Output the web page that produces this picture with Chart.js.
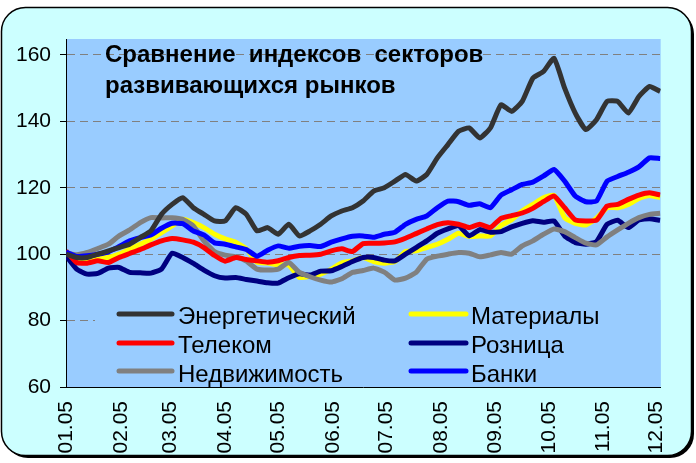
<!DOCTYPE html>
<html><head><meta charset="utf-8">
<script src="https://cdn.jsdelivr.net/npm/chart.js@4/dist/chart.umd.min.js"></script>
<style>html,body{margin:0;padding:0;background:#fff;}#wrap{width:696px;height:463px;position:relative;}</style>
</head><body><div id="wrap"><canvas id="c" width="696" height="463"></canvas></div>
<script>
const titleLines = ['Сравнение  индексов  секторов', 'развивающихся рынков'];
const monthLabels = ['01.05','02.05','03.05','04.05','05.05','06.05','07.05','08.05','09.05','10.05','11.05','12.05'];
const monthDays = [0,31,59,90,120,151,181,212,243,273,304,334];
const yTicks = [60,80,100,120,140,160];
const days = [0,6,12,18,24,30,36,42,48,54,60,66,72,78,84,90,96,102,108,114,120,126,132,138,144,150,156,162,168,174,180,186,192,198,204,210,216,222,228,234,240,246,252,258,264,270,276,282,288,294,300,306,312,318,324,330,336];

const energy = [100,99,99,100,101,102,103,105,107,112,115,117,114,112,110,110,114,112,107,108,106,109,105.5,107,109,111.5,113,114,116,119,120,122,124,122,124,129,133,137,138,135,138,145,143,146,153,155,159,150,142.5,137.5,140.5,146,146,142.5,147.5,150.5,149];
const materials = [100.5,98.5,98.5,99,99,100,101.5,103,104.5,106.5,108.5,110.5,109.5,108,106,104.6,103.6,101.6,97.6,97.3,96.8,96.7,93,93.3,94,95.5,97.4,98,99,97.8,97.3,97.8,100.8,101,102,103,104.5,106.3,105.3,105.5,105.5,108.6,110.4,113,115,117,117.7,111,109.3,108.8,110.8,114,114,115,116.8,117.7,117];
const telecom = [101,97.5,97.3,98,97.5,99,100.2,101.4,102.8,104,104.7,104.3,103.6,102,99.6,97.9,99,98.4,98,97.6,98,99,99.6,99.7,100,101,101.6,100.8,103.2,103.3,103.4,103.7,104.8,106.2,107.6,108.9,109.5,109,108,109,108,110.8,111.6,112.4,113.8,115.8,117.5,114,110.3,110,110.2,114.5,115,116.5,117.8,118.5,117.8];
const retail = [99.5,95.5,94,94.2,95.8,96,94.5,94.4,94.3,95.5,100.3,99,97.2,95.2,93.5,92.8,93,92.4,91.9,91.4,91.3,92.9,94.1,93.7,94.9,95,96.3,97.8,99,99,98.2,98,100,102,104,106.3,107.6,108.6,105.5,107.4,106.6,106.8,108.2,109.3,110.1,109.6,110,105.5,103.5,103,103.8,109,110.2,108,110.3,110.7,110.2];
const realEstate = [100.3,99.8,100.5,101.7,103,105.5,107.3,109.5,111,110.9,111,110.5,108.5,104,100.8,99.7,99.2,97.9,95.5,95.2,95.5,97.5,94.5,93.2,92.2,91.6,92.6,94.5,95.1,95.8,94.6,92.2,92.8,94.5,98.5,99.4,100,100.5,100.3,99.2,99.8,100.5,100,102.5,104,106,107.6,106.8,105,103.3,102.8,105.2,107.3,109.3,111,112,112.3];
const banks = [100.6,99.3,99.5,100,100.7,102.3,104,105,105.8,107.8,109.3,109.2,107,105.8,103.4,103,102.2,101.4,99.4,101.2,102.5,101.8,102.4,102.6,102.3,103.6,104.6,105.4,105.5,105.1,106,106.6,109,110.5,111.5,114,116,115.8,114.7,115.2,114,117.8,119.4,121,121.7,123.5,125.5,122,117.5,115.8,116,122,123.4,124.7,126.3,129,128.8];

const seriesNames = ['Энергетический','Материалы','Телеком','Розница','Недвижимость','Банки'];
const seriesColors = ['#333333','#FFFF00','#FF0000','#000080','#808080','#0000FF'];
const seriesValues = [energy, materials, telecom, retail, realEstate, banks];
const drawOrder = [0,5,2,4,3,1];

const FONT = "'Liberation Sans', Arial, sans-serif";

const decor = {
  id: 'decor',
  beforeDraw(chart) {
    const ctx = chart.ctx;
    const ca = chart.chartArea;
    ctx.save();
    ctx.fillStyle = '#ffffff';
    ctx.fillRect(0,0,chart.width,chart.height);
    function rr(x,y,w,h,r){
      ctx.beginPath();
      ctx.moveTo(x+r,y);
      ctx.lineTo(x+w-r,y);
      ctx.arcTo(x+w,y,x+w,y+r,r);
      ctx.lineTo(x+w,y+h-r);
      ctx.arcTo(x+w,y+h,x+w-r,y+h,r);
      ctx.lineTo(x+r,y+h);
      ctx.arcTo(x,y+h,x,y+h-r,r);
      ctx.lineTo(x,y+r);
      ctx.arcTo(x,y,x+r,y,r);
      ctx.closePath();
    }
    rr(4,10,690,448,24);
    ctx.fillStyle = '#000000';
    ctx.fill();
    rr(1.5,7.5,690,448,24);
    ctx.fillStyle = '#CCFFFF';
    ctx.fill();
    ctx.lineWidth = 1.5;
    ctx.strokeStyle = '#000000';
    ctx.stroke();
    ctx.fillStyle = '#99CCFF';
    ctx.fillRect(ca.left, ca.top, ca.right-ca.left, ca.bottom-ca.top);
    ctx.restore();
  },
  beforeDatasetsDraw(chart) {
    const ctx = chart.ctx;
    const ca = chart.chartArea;
    ctx.save();
    ctx.fillStyle = '#99CCFF';
    ctx.fillRect(95, 300, ca.right-95, ca.bottom-300-1);
    ctx.restore();
  },
  afterDraw(chart) {
    const ctx = chart.ctx;
    ctx.save();
    ctx.fillStyle = '#000';
    ctx.font = "bold 24px " + FONT;
    ctx.textBaseline = 'alphabetic';
    ctx.textAlign = 'left';
    ctx.fillText(titleLines[0], 105, 62);
    ctx.fillText(titleLines[1], 105, 93);
    // legend
    const lineY = [314, 343, 371];
    const baseY = [324, 353, 382];
    const cols = [{x0:119,x1:172,tx:178},{x0:411,x1:466,tx:471}];
    ctx.font = "24px " + FONT;
    for (let i = 0; i < seriesNames.length; i++) {
      const c = cols[i % 2];
      const r = Math.floor(i / 2);
      ctx.strokeStyle = seriesColors[i];
      ctx.lineWidth = 5;
      ctx.lineCap = 'round';
      ctx.beginPath();
      ctx.moveTo(c.x0, lineY[r]);
      ctx.lineTo(c.x1, lineY[r]);
      ctx.stroke();
      ctx.fillStyle = '#000';
      ctx.fillText(seriesNames[i], c.tx, baseY[r]);
    }
    ctx.restore();
  }
};

const datasets = seriesNames.map((name, i) => ({
  label: name,
  data: days.map((d, k) => ({x: d, y: seriesValues[i][k]})),
  borderColor: seriesColors[i],
  backgroundColor: seriesColors[i],
  borderWidth: 5,
  pointRadius: 0,
  tension: 0.15,
  fill: false,
  order: drawOrder[i]
}));

new Chart(document.getElementById('c'), {
  type: 'line',
  data: { datasets },
  options: {
    responsive: false,
    animation: false,
    events: [],
    layout: { padding: { left: 0, top: 39, right: 29, bottom: 0 } },
    plugins: { legend: { display: false }, tooltip: { enabled: false }, title: { display: false } },
    scales: {
      x: {
        type: 'linear',
        min: 0,
        max: 336.3,
        afterBuildTicks: s => { s.ticks = monthDays.map(v => ({ value: v })); },
        afterFit: s => { s.height = 76; },
        ticks: {
          callback: (v) => monthLabels[monthDays.indexOf(v)],
          minRotation: 90, maxRotation: 90, autoSkip: false,
          font: { size: 21, family: FONT }, color: '#000', padding: 14
        },
        grid: { display: false, drawTicks: false },
        border: { display: true, color: '#000', width: 1 }
      },
      y: {
        min: 60,
        max: 164.8,
        afterBuildTicks: s => { s.ticks = yTicks.map(v => ({ value: v })); },
        afterFit: s => { s.width = 66; },
        ticks: { font: { size: 21, family: FONT }, color: '#000', padding: 9 },
        grid: { color: '#808080', lineWidth: 1, drawTicks: true, tickLength: 6, tickColor: '#000', tickBorderDash: [] },
        border: { display: true, color: '#000', width: 1, dash: [8, 5] }
      }
    }
  },
  plugins: [decor]
});
</script></body></html>
